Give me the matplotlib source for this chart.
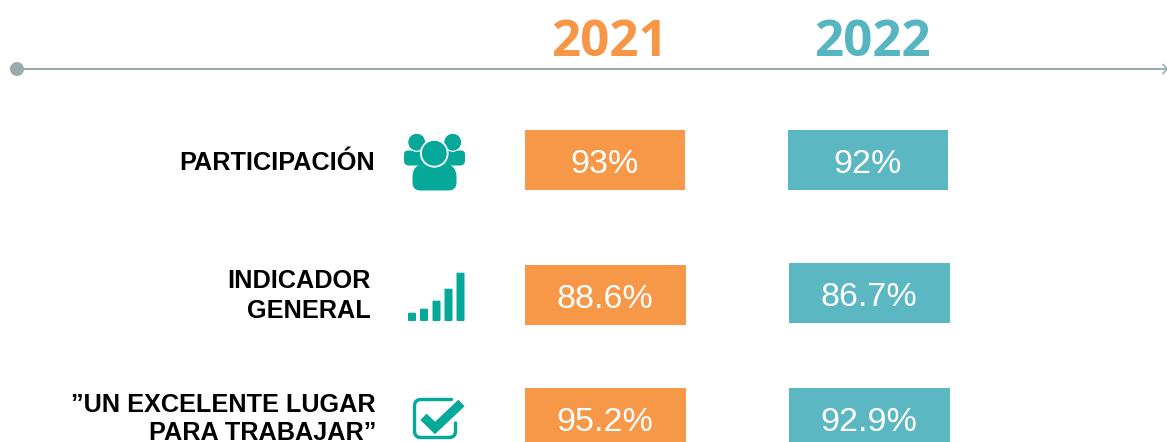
import matplotlib
matplotlib.use("Agg")
import matplotlib.pyplot as plt
from matplotlib.patches import Circle, FancyBboxPatch, PathPatch, Rectangle
from matplotlib.path import Path

years = ["2021", "2022"]
labels = [
    ["PARTICIPACIÓN"],
    ["INDICADOR", "GENERAL"],
    ["”UN EXCELENTE LUGAR", "PARA TRABAJAR”"],
]
values_2021 = ["93%", "88.6%", "95.2%"]
values_2022 = ["92%", "86.7%", "92.9%"]

ORANGE = "#F79849"
BLUE = "#5BB7C2"
ORANGE_HEAD = "#F79646"
BLUE_HEAD = "#55B5C1"
ICON = "#05A899"
GREY = "#9AABAB"

W, H = 1167, 442


def px(n):
    # line widths are in points, the layout is in pixels
    return n * 72 / 100


def rounded(ax, x0, y0, x1, y1, r, color=ICON, **kw):
    ax.add_patch(FancyBboxPatch((x0 + r, y0 + r), x1 - x0 - 2 * r, y1 - y0 - 2 * r,
                                boxstyle=f"round,pad={r},rounding_size={r}",
                                fc=color, ec="none", **kw))


def body(ax, x0, x1, top, bottom, r_top, r_bot, **kw):
    # shoulders rounder than the bottom corners
    verts = [(x0, bottom - r_bot), (x0, top + r_top), (x0, top), (x0 + r_top, top),
             (x1 - r_top, top), (x1, top), (x1, top + r_top), (x1, bottom - r_bot),
             (x1, bottom), (x1 - r_bot, bottom), (x0 + r_bot, bottom), (x0, bottom),
             (x0, bottom - r_bot)]
    codes = [Path.MOVETO, Path.LINETO, Path.CURVE3, Path.CURVE3, Path.LINETO, Path.CURVE3,
             Path.CURVE3, Path.LINETO, Path.CURVE3, Path.CURVE3, Path.LINETO, Path.CURVE3,
             Path.CURVE3]
    ax.add_patch(PathPatch(Path(verts, codes), fc=ICON, ec="none", **kw))


def people_icon(ax):
    for cx in (416.7, 452.7):
        ax.add_patch(Circle((cx, 142.2), 8.6, fc=ICON, ec="none", zorder=2))
    body(ax, 404, 425, 150.5, 165.5, 4, 5, zorder=2)
    body(ax, 444, 465, 150.5, 165.5, 4, 5, zorder=2)
    ax.add_patch(Circle((416.7, 142.2), 9.1, fc="none", ec="white", lw=px(1.1), zorder=2))
    ax.add_patch(Circle((452.7, 142.2), 9.1, fc="none", ec="white", lw=px(1.1), zorder=2))
    body(ax, 412.5, 456.5, 164, 190.5, 13, 8, zorder=3)
    ax.add_patch(Circle((434.3, 153.3), 13.4, fc=ICON, ec="white", lw=px(1.8), zorder=4))


def signal_icon(ax):
    lefts = [408, 420, 432.5, 444.5, 456.5]
    tops = [312.7, 308.7, 300.7, 288.7, 272.7]
    for x, top in zip(lefts, tops):
        rounded(ax, x, top, x + 8, 321, 1, zorder=2)


def check_icon(ax):
    verts = [(451.5, 399.5), (421, 399.5), (414.5, 399.5), (414.5, 406),
             (414.5, 431), (414.5, 437.5), (421, 437.5),
             (449, 437.5), (455.5, 437.5), (455.5, 431), (455.5, 423)]
    codes = [Path.MOVETO, Path.LINETO, Path.CURVE3, Path.CURVE3,
             Path.LINETO, Path.CURVE3, Path.CURVE3,
             Path.LINETO, Path.CURVE3, Path.CURVE3, Path.LINETO]
    ax.add_patch(PathPatch(Path(verts, codes), fc="none", ec=ICON, lw=px(3.4),
                           capstyle="round", joinstyle="round", zorder=2))
    ax.plot([423.5, 435, 461.5], [416.8, 428, 403], color=ICON, lw=px(9),
            solid_capstyle="butt", solid_joinstyle="miter", zorder=4)


fig = plt.figure(figsize=(W / 100, H / 100), dpi=100)
ax = fig.add_axes([0, 0, 1, 1])
ax.set_xlim(0, W)
ax.set_ylim(H, 0)
ax.axis("off")

# timeline
ax.plot([17, 1167], [69, 69], color=GREY, lw=px(2), zorder=1)
ax.add_patch(Circle((17, 69), 7, fc=GREY, ec="none", zorder=2))
ax.plot([1163, 1167.5, 1163], [64.5, 69, 73.5], color=GREY, lw=px(1.5), zorder=2)

# year headers
head_x = [609, 872.5]
for year, x, c in zip(years, head_x, [ORANGE_HEAD, BLUE_HEAD]):
    ax.text(x, 37, year, color=c, fontsize=36.8, fontweight="bold", family="Open Sans",
            ha="center", va="center_baseline")

# tiles, one column per year
tile_2021 = [(525, 130), (525, 265), (525, 388)]
tile_2022 = [(788, 130), (789, 263), (789, 388)]
tile_w = [160, 160.5, 160.5]
for vals, tiles, c in [(values_2021, tile_2021, ORANGE), (values_2022, tile_2022, BLUE)]:
    for v, (x, y), w in zip(vals, tiles, tile_w):
        ax.add_patch(Rectangle((x, y), w, 60, fc=c, ec="none"))
        ax.text(x + 80, y + 31, v, color="white", fontsize=24.5, family="Liberation Sans",
                ha="center", va="center_baseline")

# row labels
label_right = [375, 371, 376]
label_y = [[160], [278, 308], [403, 431]]
for lines, right, ys in zip(labels, label_right, label_y):
    for line, y in zip(lines, ys):
        ax.text(right, y, line, color="black", fontsize=18.2, fontweight="bold",
                family="Liberation Sans", ha="right", va="center_baseline")

people_icon(ax)
signal_icon(ax)
check_icon(ax)

fig.savefig("out.png", dpi=100, facecolor="white")
